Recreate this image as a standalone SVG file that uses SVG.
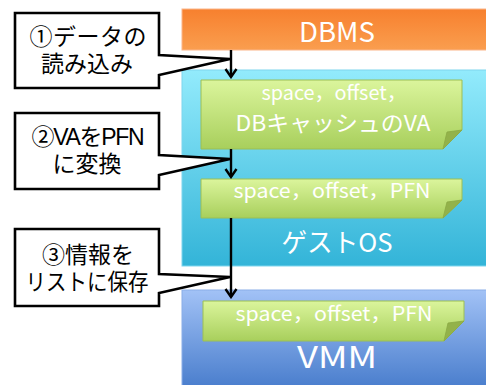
<svg xmlns="http://www.w3.org/2000/svg" width="486" height="385" viewBox="0 0 486 385">
  <defs>
    <linearGradient id="gOrange" x1="0" y1="0" x2="0" y2="1">
      <stop offset="0" stop-color="#f7802e"/>
      <stop offset="1" stop-color="#fa9e4f"/>
    </linearGradient>
    <linearGradient id="gCyan" x1="0" y1="0" x2="0" y2="1">
      <stop offset="0" stop-color="#93ebfc"/>
      <stop offset="1" stop-color="#33b4d8"/>
    </linearGradient>
    <linearGradient id="gBlue" x1="0" y1="0" x2="0" y2="1">
      <stop offset="0" stop-color="#a2c2f6"/>
      <stop offset="1" stop-color="#4a7ecd"/>
    </linearGradient>
    <linearGradient id="gGreen" x1="0" y1="0" x2="0" y2="1">
      <stop offset="0" stop-color="#dbf59c"/>
      <stop offset="1" stop-color="#a8cf5c"/>
    </linearGradient>
    <!-- open V arrowhead, drawn pointing along +x -->
    <marker id="arrow" viewBox="0 0 12 14" refX="10" refY="7" markerWidth="12" markerHeight="14" markerUnits="userSpaceOnUse" orient="auto">
      <path d="M2,1.5 L10,7 L2,12.5" fill="none" stroke="#000" stroke-width="2.4"/>
    </marker>
    <style>
      .layer-label { font-family: "Noto Sans CJK JP", "Liberation Sans", sans-serif; fill: #fff; text-anchor: middle; }
      .note { fill: url(#gGreen); stroke: #9cbf55; stroke-width: 1; }
      .fold { fill: #93b24a; stroke: #8aa944; stroke-width: 0.8; }
      .note-text { font-family: "Noto Sans CJK JP", "Liberation Sans", sans-serif; fill: #fff; text-anchor: middle; }
      .callout { fill: #fff; stroke: #000; stroke-width: 2.6; stroke-linejoin: miter; }
      .callout-text { font-family: "Liberation Sans", "Noto Sans CJK JP", sans-serif; font-size: 23px; fill: #000; text-anchor: middle; }
      .flow { fill: none; stroke: #000; stroke-width: 2.4; }
    </style>
  </defs>

  <rect width="486" height="385" fill="#fff"/>

  <!-- layers -->
  <g id="dbms">
    <rect x="182" y="9" width="306" height="41" fill="url(#gOrange)" stroke="#fbb58a" stroke-width="1"/>
    <text class="layer-label" x="337" y="42" font-size="27" textLength="76" lengthAdjust="spacingAndGlyphs">DBMS</text>
  </g>
  <g id="guest-os">
    <rect x="182" y="70" width="306" height="196" fill="url(#gCyan)" stroke="#7fd6ee" stroke-width="1"/>
    <text class="layer-label" x="337" y="252" font-size="26" textLength="111" lengthAdjust="spacingAndGlyphs">ゲストOS</text>
  </g>
  <g id="vmm">
    <rect x="182" y="290" width="306" height="97" fill="url(#gBlue)" stroke="#8aaee8" stroke-width="1"/>
    <text class="layer-label" x="337" y="368" font-size="30" textLength="80" lengthAdjust="spacingAndGlyphs">VMM</text>
  </g>

  <!-- notes -->
  <g id="note-va">
    <path class="note" d="M201,80 H462 V130 L443,149 H201 Z"/>
    <path class="fold" d="M443,149 L447,132 L462,130 Z"/>
    <text class="note-text" x="334" y="100" font-size="20" textLength="145" lengthAdjust="spacingAndGlyphs">space，offset，</text>
    <text class="note-text" x="333" y="131" font-size="22" textLength="195" lengthAdjust="spacingAndGlyphs">DBキャッシュのVA</text>
  </g>
  <g id="note-pfn-guest">
    <path class="note" d="M201,179 H462 V200 L443,218 H201 Z"/>
    <path class="fold" d="M443,218 L447,202 L462,200 Z"/>
    <text class="note-text" x="332" y="198" font-size="20" textLength="197" lengthAdjust="spacingAndGlyphs">space，offset，PFN</text>
  </g>
  <g id="note-pfn-vmm">
    <path class="note" d="M203,301 H464 V321 L444,341 H203 Z"/>
    <path class="fold" d="M444,341 L448,323 L464,321 Z"/>
    <text class="note-text" x="334" y="321" font-size="20" textLength="197" lengthAdjust="spacingAndGlyphs">space，offset，PFN</text>
  </g>

  <!-- connectors -->
  <g id="connectors">
    <line class="flow" x1="231" y1="50" x2="231" y2="77" marker-end="url(#arrow)"/>
    <line class="flow" x1="231" y1="149" x2="231" y2="177" marker-end="url(#arrow)"/>
    <line class="flow" x1="231" y1="218" x2="231" y2="297" marker-end="url(#arrow)"/>
  </g>

  <!-- callouts -->
  <g id="step1">
    <path class="callout" d="M15,13 H159 V55 L230,59 L159,75 V88 H15 Z"/>
    <text class="callout-text"><tspan x="88" y="45" textLength="117">①データの</tspan><tspan x="87" y="72">読み込み</tspan></text>
  </g>
  <g id="step2">
    <path class="callout" d="M15,113 H159 V155 L230,159 L159,175 V189 H15 Z"/>
    <text class="callout-text"><tspan x="88" y="145" textLength="113">②VAをPFN</tspan><tspan x="87" y="172">に変換</tspan></text>
  </g>
  <g id="step3">
    <path class="callout" d="M15,229 H159 V274 L230,277 L159,293 V306 H15 Z"/>
    <text class="callout-text"><tspan x="88" y="263">③情報を</tspan><tspan x="87" y="290" textLength="123" lengthAdjust="spacingAndGlyphs">リストに保存</tspan></text>
  </g>
</svg>
